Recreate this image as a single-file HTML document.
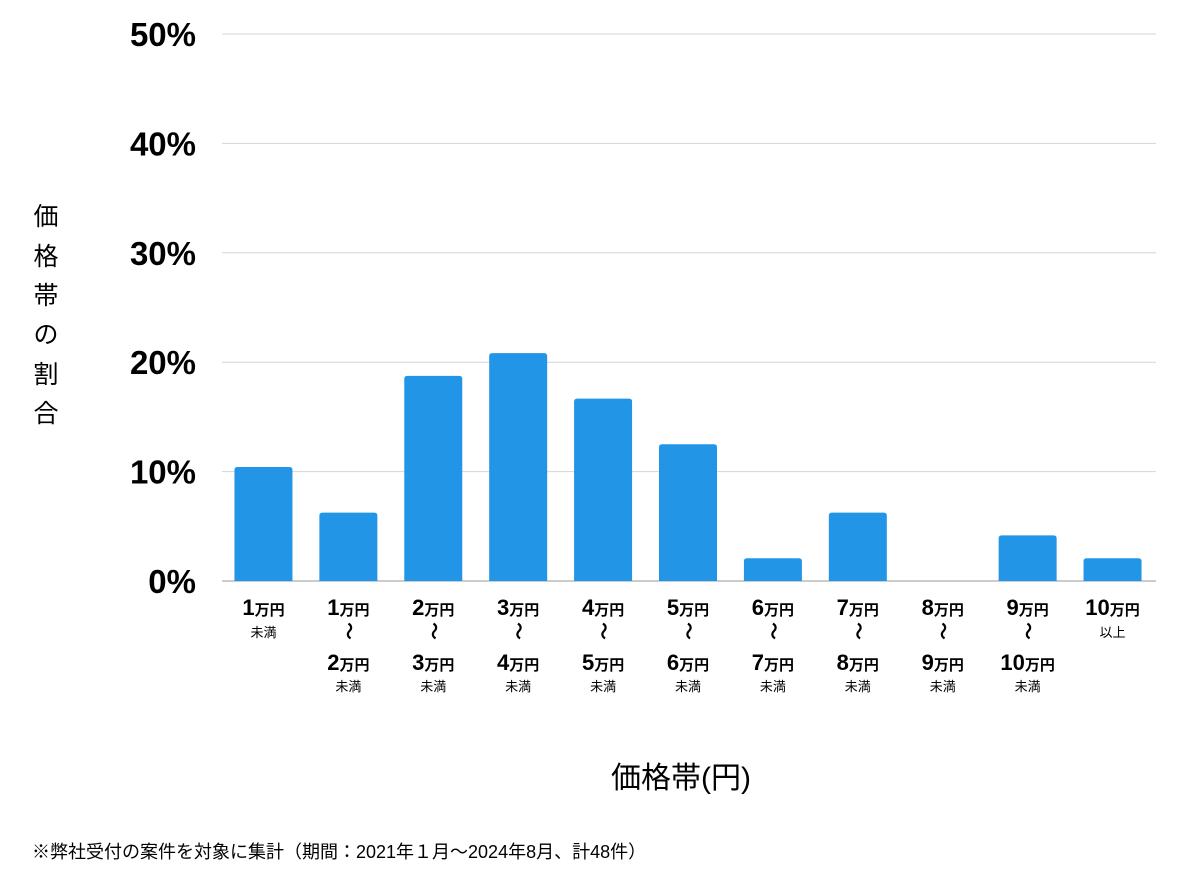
<!DOCTYPE html>
<html><head><meta charset="utf-8"><style>
html,body{margin:0;padding:0;background:#fff;}
svg{display:block;font-family:"Liberation Sans","Noto Sans CJK JP",sans-serif;}
</style></head><body>
<svg id="chart" width="1200" height="874" viewBox="0 0 1200 874">
<g id="grid"></g><g id="bars"></g><g id="xlabels"></g>
<g font-size="25" fill="#000" text-anchor="middle">
<text x="46" y="225">価</text><text x="46" y="265">格</text><text x="46" y="304">帯</text><text x="46" y="343">の</text><text x="46" y="383">割</text><text x="46" y="422">合</text>
</g>
<text x="681" y="788" font-size="30" text-anchor="middle" fill="#000">価格帯(円)</text>
<text x="32" y="858" font-size="18" fill="#000">※弊社受付の案件を対象に集計（期間：2021年１月〜2024年8月、計48件）</text>
</svg>
<script>
const lowLabels=["1","1","2","3","4","5","6","7","8","9","10"];
const highLabels=["","2","3","4","5","6","7","8","9","10",""];
const values=[10.42,6.25,18.75,20.83,16.67,12.5,2.08,6.25,0,4.17,2.08];
const yTicks=[0,10,20,30,40,50];
const NS="http://www.w3.org/2000/svg";
const x0=222,x1=1156,y0=581,y1=34,yMax=50;
const step=(x1-x0)/values.length;
const yS=v=>y0-(v/yMax)*(y0-y1);
const xC=i=>x0+step*(i+0.5)-1;
function mk(t,a,p){const e=document.createElementNS(NS,t);for(const k in a)e.setAttribute(k,a[k]);p.appendChild(e);return e;}
const grid=document.getElementById('grid');
yTicks.forEach(t=>{
 const l=mk('line',{x1:x0,x2:x1,y1:yS(t),y2:yS(t),stroke:t===0?'#999':'#d4d4d4','stroke-width':1},grid);
 
 
 const tx=mk('text',{x:196,y:yS(t)+12,'text-anchor':'end','font-size':33,'font-weight':'bold',fill:'#000'},grid);
 tx.textContent=t+'%';
 
 
});
const bars=document.getElementById('bars');
const xl=document.getElementById('xlabels');
values.forEach((v,i)=>{
 const c=xC(i),w=58;
 if(v>0){
  const h=y0-yS(v);
  const r=mk('path',{d:`M${c-w/2},${y0}V${yS(v)+3}Q${c-w/2},${yS(v)} ${c-w/2+3},${yS(v)}H${c+w/2-3}Q${c+w/2},${yS(v)} ${c+w/2},${yS(v)+3}V${y0}Z`,fill:'#2395e7'},bars);
  
  
 }
 const g=mk('g',{},xl);
 
 
 function amt(n,y){const t=mk('text',{x:c,y:y,'text-anchor':'middle','font-weight':'bold',fill:'#000'},g);
  const a=mk('tspan',{'font-size':22},t);a.textContent=n;const b=mk('tspan',{'font-size':15},t);b.textContent='万円';}
 function sub(s,y){const t=mk('text',{x:c,y:y,'text-anchor':'middle','font-size':13,fill:'#000'},g);t.textContent=s;}
 amt(lowLabels[i],615);
 if(highLabels[i]===''){sub(i===0?'未満':'以上',637);}
 else{
  const t=mk('text',{x:c,y:637,'text-anchor':'middle','font-size':18,'font-weight':'bold',fill:'#000',transform:`rotate(90 ${c} 631)`},g);t.textContent='〜';
  amt(highLabels[i],670);sub('未満',691);
 }
});
</script>
</body></html>
